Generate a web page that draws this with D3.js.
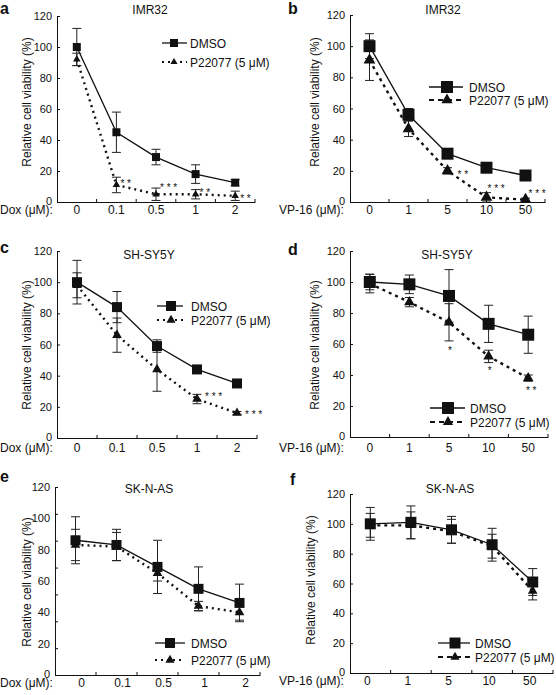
<!DOCTYPE html>
<html><head><meta charset="utf-8">
<script src="https://cdn.jsdelivr.net/npm/d3@7"></script>
<style>
body{margin:0;background:#fff}
svg{display:block}
text{font-family:"Liberation Sans",Arial,sans-serif;fill:#111}
</style>
</head><body><svg id="chart" width="556" height="695"></svg>
<script>
// ---------------- data ----------------
const doxCats = ["0","0.1","0.5","1","2"];
const vpCats  = ["0","1","5","10","50"];
const yTickValues = [0,20,40,60,80,100,120];
const seriesNames = ["DMSO","P22077 (5 μM)"];
const panelLetters = ["a","b","c","d","e","f"];
const cellLines = ["IMR32","IMR32","SH-SY5Y","SH-SY5Y","SK-N-AS","SK-N-AS"];
const drugLabels = ["Dox (μM):","VP-16 (μM):"];
const yAxisTitle = "Relative cell viability (%)";

const aDMSO=[100,45,29,18,12.5], aDMSOErr=[12,13,5,6,2];
const aP=[92,11,5,5,4],          aPErr=[4,5,4,3,3];
const aStars=["","* *","* * *","* *","* *"];

const bDMSO=[100,56,31,22,17],   bDMSOErr=[8,4,2,2,3];
const bP=[91,47,20,3,1.5],       bPErr=[13,5,2,3,1];
const bStars=["","","* *","* * *","* * *"];

const cDMSO=[100,84,59,44,35],   cDMSOErr=[14,10,4,2,2];
const cP=[98,66,44,25,16],       cPErr=[8,11,14,3,1];
const cStars=["","","","* * *","* * *"];

const dDMSO=[100,98.5,91,73,66], dDMSOErr=[5,6,17,12,12];
const dP=[99,87,74,52,38],       dPErr=[6,3,12,4,2];
const dStars=["","","*","*","* *"];

const eDMSO=[86,83,69,55,46],    eDMSOErr=[15,10,17,14,12];
const eP=[83,82,65,44,40],       ePErr=[10,9,5,3,5];
const eStars=["","","","",""];

const fDMSO=[100,101,96,86,61],  fDMSOErr=[11,11,9,11,9];
const fP=[99,99,95,85,55],       fPErr=[8,9,8,8,6];
const fStars=["","","","",""];

// ---------------- layout (positions / styles only) ----------------
const layouts = [
 {x0:57,x1:255,yb:202,yt:16, letter:[0,14], title:[150,14], ylab:[27,102], xlab:[0,214], tickBase:214, tickDx:0,
  leg:{l1:162,l2:187,mx:174,tx:190,y1:43,y2:62}, sq:8, tri:7, dash:"2,4", legDash:"2,4",
  star:{anchor:"start", off:[[0,0],[4,-3],[4,-8],[4,-3],[5,1]]}},
 {x0:350,x1:545,yb:202,yt:15, letter:[288,14], title:[443,14], ylab:[315,102], xlab:[279,214], tickBase:214, tickDx:0,
  leg:{l1:429,l2:463,mx:447,tx:469,y1:87,y2:100}, sq:12, tri:11, dash:"3,4", legDash:"5,4",
  star:{anchor:"start", off:[[0,0],[0,0],[10,2],[1,-10],[3,-8]]}},
 {x0:57,x1:257,yb:438,yt:251, letter:[0,253], title:[149,259], ylab:[27,345], xlab:[0,452], tickBase:452, tickDx:0,
  leg:{l1:157,l2:183,mx:171,tx:191,y1:306,y2:320}, sq:10, tri:9, dash:"2,4", legDash:"2,4",
  star:{anchor:"start", off:[[0,0],[0,0],[0,0],[8,-4],[8,0]]}},
 {x0:350,x1:548,yb:437,yt:251, letter:[288,255], title:[447,259], ylab:[315,345], xlab:[279,452], tickBase:452, tickDx:0,
  leg:{l1:430,l2:465,mx:448,tx:470,y1:408,y2:422}, sq:12, tri:10, dash:"3,4", legDash:"5,4",
  star:{anchor:"middle", off:[[0,0],[0,0],[1,27],[1,13],[3,11]]}},
 {x0:55,x1:260,yb:675,yt:487, letter:[0,482], title:[149,493], ylab:[27,582], xlab:[0,687], tickBase:687, tickDx:6,
  leg:{l1:155,l2:185,mx:170,tx:191,y1:643,y2:660}, sq:10, tri:9, dash:"2,4", legDash:"2,4",
  markTicks:8, star:{anchor:"start", off:[[0,0],[0,0],[0,0],[0,0],[0,0]]}},
 {x0:350,x1:553,yb:673,yt:494, letter:[290,485], title:[450,493], ylab:[311,580], xlab:[279,685], tickBase:685, tickDx:-3,
  leg:{l1:438,l2:470,mx:455,tx:475,y1:643,y2:657}, sq:11, tri:9, dash:"3,4", legDash:"5,4",
  star:{anchor:"start", off:[[0,0],[0,0],[0,0],[0,0],[0,0]]}}
];

const panels = [
 {cats:doxCats, drug:0, dmso:aDMSO, dmsoErr:aDMSOErr, p:aP, pErr:aPErr, stars:aStars},
 {cats:vpCats,  drug:1, dmso:bDMSO, dmsoErr:bDMSOErr, p:bP, pErr:bPErr, stars:bStars},
 {cats:doxCats, drug:0, dmso:cDMSO, dmsoErr:cDMSOErr, p:cP, pErr:cPErr, stars:cStars},
 {cats:vpCats,  drug:1, dmso:dDMSO, dmsoErr:dDMSOErr, p:dP, pErr:dPErr, stars:dStars},
 {cats:doxCats, drug:0, dmso:eDMSO, dmsoErr:eDMSOErr, p:eP, pErr:ePErr, stars:eStars},
 {cats:vpCats,  drug:1, dmso:fDMSO, dmsoErr:fDMSOErr, p:fP, pErr:fPErr, stars:fStars}
];

// ---------------- drawing ----------------
const svg = d3.select("#chart");
const ink = "#111";

panels.forEach((P, k) => {
  const L = layouts[k];
  const g = svg.append("g");
  const x = d3.scaleBand().domain(P.cats).range([L.x0, L.x1]);
  const y = d3.scaleLinear().domain([0,120]).range([L.yb, L.yt]);
  const cx = c => x(c) + x.bandwidth()/2;

  // Y axis: line + inward tick marks
  const markVals = L.markTicks ? d3.range(L.markTicks).map(i => i*120/(L.markTicks-1)) : yTickValues;
  const ya = g.append("g").attr("transform",`translate(${L.x0},0)`)
    .call(d3.axisRight(y).tickValues(markVals).tickSize(3).tickSizeOuter(0).tickFormat(""));
  ya.selectAll("path,line").attr("stroke",ink).attr("stroke-width",1);
  // Y tick labels
  const yl = g.append("g").attr("transform",`translate(${L.x0},0)`)
    .call(d3.axisLeft(y).tickValues(yTickValues).tickSize(0).tickPadding(5));
  yl.select(".domain").remove();
  yl.selectAll("text").style("font-family","'Liberation Sans',Arial,sans-serif").style("font-size","11px").attr("fill",ink)
    .attr("dy", d => d === 0 ? "0.2em" : "0.32em");

  // X axis: line + upward ticks at band boundaries
  const xa = g.append("g").attr("transform",`translate(0,${L.yb})`)
    .call(d3.axisBottom(x).tickSize(0).tickSizeOuter(0).tickFormat(""));
  xa.select(".domain").attr("stroke",ink).attr("stroke-width",1);
  g.selectAll(".xb").data(P.cats).enter().append("line")
    .attr("x1", c => x(c)+x.bandwidth()).attr("x2", c => x(c)+x.bandwidth())
    .attr("y1", L.yb).attr("y2", L.yb-3).attr("stroke",ink).attr("stroke-width",1);
  // X tick labels
  g.selectAll(".xl").data(P.cats).enter().append("text")
    .attr("x", c => cx(c)+L.tickDx).attr("y", L.tickBase)
    .attr("text-anchor","middle").style("font-size","12px").text(c => c);
  g.append("text").attr("x",L.xlab[0]).attr("y",L.xlab[1]).style("font-size","12px").text(drugLabels[P.drug]);

  // Y axis title
  g.append("text").attr("transform",`translate(${L.ylab[0]},${L.ylab[1]}) rotate(-90)`)
    .attr("text-anchor","middle").attr("dy","0.35em").style("font-size","12px").text(yAxisTitle);

  // Panel letter and title
  g.append("text").attr("x",L.letter[0]).attr("y",L.letter[1])
    .style("font-size","16px").style("font-weight","bold").text(panelLetters[k]);
  g.append("text").attr("x",L.title[0]).attr("y",L.title[1]).attr("text-anchor","middle")
    .style("font-size","12px").text(cellLines[k]);

  const series = [
    {vals:P.p, err:P.pErr, dash:L.dash, w:2.4, sym:d3.symbolTriangle, size:L.tri},
    {vals:P.dmso, err:P.dmsoErr, dash:null, w:1.3, sym:d3.symbolSquare, size:L.sq}
  ];

  // lines
  series.forEach(S => {
    const line = d3.line().x((v,i) => cx(P.cats[i])).y(v => y(v));
    g.append("path").datum(S.vals).attr("d",line).attr("fill","none")
      .attr("stroke",ink).attr("stroke-width",S.w)
      .attr("stroke-dasharray",S.dash);
  });
  // error bars
  series.forEach(S => {
    const eb = g.append("g").attr("stroke","#222").attr("stroke-width",1);
    S.vals.forEach((v,i) => {
      const xx = cx(P.cats[i]);
      const hi = y(v+S.err[i]), lo = y(Math.max(0,v-S.err[i]));
      eb.append("line").attr("x1",xx).attr("x2",xx).attr("y1",hi).attr("y2",lo);
      eb.append("line").attr("x1",xx-4.5).attr("x2",xx+4.5).attr("y1",hi).attr("y2",hi);
      eb.append("line").attr("x1",xx-4.5).attr("x2",xx+4.5).attr("y1",lo).attr("y2",lo);
    });
  });
  // markers
  series.forEach(S => {
    g.selectAll(null).data(S.vals).enter().append("path")
      .attr("transform",(v,i) => `translate(${cx(P.cats[i])},${y(v)})`)
      .attr("d", d3.symbol().type(S.sym).size(S.sym===d3.symbolSquare ? S.size*S.size : S.size*S.size*0.5))
      .attr("fill",ink);
  });
  // significance stars
  P.stars.forEach((s,i) => {
    if (!s) return;
    const o = L.star.off[i];
    g.append("text").attr("x", cx(P.cats[i]) + o[0]).attr("y", y(P.p[i]) + o[1] + 5)
      .attr("text-anchor", L.star.anchor).style("font-size","10px").text(s);
  });

  // legend
  const lg = L.leg;
  g.append("line").attr("x1",lg.l1).attr("x2",lg.l2).attr("y1",lg.y1).attr("y2",lg.y1)
    .attr("stroke",ink).attr("stroke-width",1.3);
  g.append("path").attr("transform",`translate(${lg.mx},${lg.y1})`)
    .attr("d", d3.symbol().type(d3.symbolSquare).size(L.sq*L.sq)).attr("fill",ink);
  g.append("text").attr("x",lg.tx).attr("y",lg.y1+4.5).style("font-size","12px").text(seriesNames[0]);
  g.append("line").attr("x1",lg.l1).attr("x2",lg.l2).attr("y1",lg.y2).attr("y2",lg.y2)
    .attr("stroke",ink).attr("stroke-width",2.2).attr("stroke-dasharray",L.legDash);
  g.append("path").attr("transform",`translate(${lg.mx},${lg.y2})`)
    .attr("d", d3.symbol().type(d3.symbolTriangle).size(L.tri*L.tri*0.45)).attr("fill",ink);
  g.append("text").attr("x",lg.tx).attr("y",lg.y2+4.5).style("font-size","12px").text(seriesNames[1]);
});
</script>
</body></html>
